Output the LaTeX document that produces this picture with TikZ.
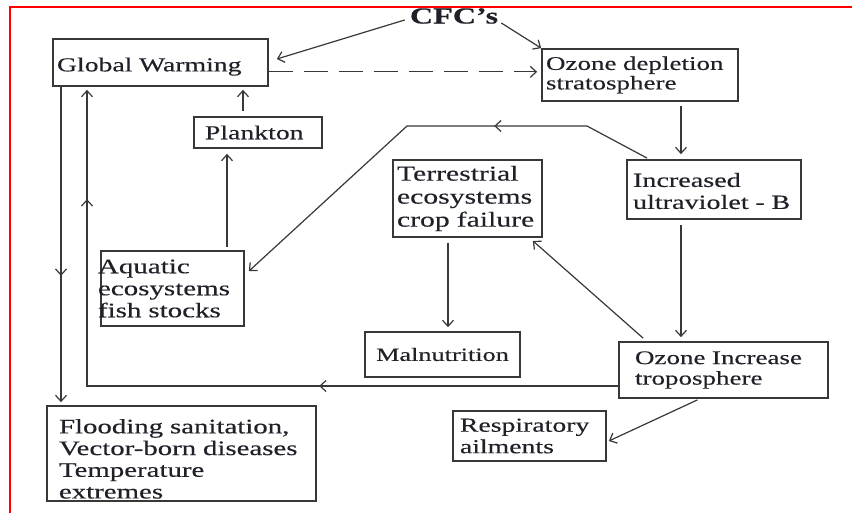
\documentclass[tikz,border=0pt]{standalone}
\usepackage{fontspec}
\setmainfont{Liberation Serif}[FakeStretch=1.4, FakeBold=0.3]
\usetikzlibrary{arrows.meta,calc,decorations.markings}
\newcommand\fsz[2]{\fontsize{#1}{#2}\selectfont}
\definecolor{ln}{HTML}{383838}
\definecolor{txt}{HTML}{202028}
\tikzset{
  box/.style={draw=ln, line width=1.7pt, text=txt, inner ysep=0pt, align=left, font=\fsz{19.8}{21.5}},
  conn/.style={draw=ln, line width=1.2pt, -{Straight Barb[length=6pt,width=11pt]}},
  marr/.style={postaction={decorate, decoration={markings, mark=at position #1 with {\arrow{Straight Barb[length=6pt,width=11pt]}}}}},
}
\begin{document}
\begin{tikzpicture}[x=1pt, y=-1pt]
\useasboundingbox (0,0) rectangle (852,513);
\fill[white] (0,0) rectangle (852,513);
\draw[red, line width=1.3pt] (10,513) -- (10,7) -- (852,7);

% boxes
\node[box, text width=207pt, inner xsep=4pt, minimum height=47pt] (gw) at (160.5,62.5) {\rule{0pt}{22pt}\mbox{Global Warming}};
\node[box, text width=188pt, inner xsep=4pt, minimum height=52pt, font=\fsz{19.3}{19.5}] (odep) at (640,75) {\mbox{Ozone depletion}\\stratosphere};
\node[box, text width=162pt, inner xsep=6pt, minimum height=59pt, font=\fsz{20.1}{22}] (uv) at (714,189.5) {\rule{0pt}{17pt}Increased\\\mbox{ultraviolet - B}};
\node[box, text width=141pt, inner xsep=4pt, minimum height=77pt, font=\fsz{21.2}{23}] (terr) at (467.5,198.5) {Terrestrial\\ecosystems\\\mbox{crop failure}};
\node[box, text width=155pt, inner xsep=0pt, minimum height=45pt, align=center, font=\fsz{18.75}{20}] (maln) at (442.5,354.5) {Malnutrition};
\node[box, text width=177pt, inner xsep=16pt, minimum height=56pt, font=\fsz{19.3}{20.5}] (ozi) at (723.5,370) {\mbox{Ozone Increase}\\troposphere};
\node[box, text width=139pt, inner xsep=7pt, minimum height=50pt] (resp) at (529.5,436) {Respiratory\\ailments};
\node[box, text width=245pt, inner xsep=12pt, minimum height=95pt, font=\fsz{20.6}{21.7}] (flood) at (181.5,453.5) {\rule{0pt}{25pt}\mbox{Flooding sanitation,}\\\mbox{Vector-born diseases}\\Temperature\\extremes};
\node[box, text width=106pt, inner xsep=11pt, minimum height=31pt] (plank) at (258,132.5) {Plankton};
\node[box, text width=141pt, inner xsep=1pt, minimum height=75pt, font=\fsz{20.7}{22}] (aq) at (172.5,288.5) {\hspace*{-4pt}Aquatic\\\hspace*{-4pt}ecosystems\\\hspace*{-4pt}\mbox{fish stocks}};
\node[font=\bfseries\fsz{23}{25}, text=txt, inner sep=1pt] (cfc) at (454,16) {CFC's};

% helper coordinates
\coordinate (c1) at (681,0);
\coordinate (c2) at (448,0);
\coordinate (c3) at (87,0);
\coordinate (c4) at (61,0);
\coordinate (c5) at (243,0);
\coordinate (c6) at (227,0);
\coordinate (r1) at (0,386);
\coordinate (b1) at (587,126);
\coordinate (b2) at (407,126);
\coordinate (d0) at ($(gw.south east)+(0,-15)$);

% connectors
\draw[conn] ($(cfc.west)+(-4,4)$) -- ($(gw.east)+(8,-3.5)$);
\draw[conn] ($(cfc.east)+(2,7)$) -- (odep.north west);
\draw[conn, dash pattern=on 24pt off 11pt] (d0) -- ($(d0 -| odep.west)+(-4,0)$);
\draw[conn, shorten <=4pt, shorten >=5pt] (odep.south -| c1) -- (uv.north -| c1);
\draw[conn, shorten <=5pt, shorten >=4pt] (uv.south -| c1) -- (ozi.north -| c1);
\draw[conn] ($(ozi.south)+(-26,1)$) -- ($(resp.east)+(2,5)$);
\draw[conn] ($(ozi.north west)+(25,-3)$) -- ($(terr.south east)+(-10,3)$);
\draw[conn, shorten <=5pt, shorten >=4pt] (terr.south -| c2) -- (maln.north -| c2);
\draw[conn, marr=299pt, marr=718pt] (ozi.west |- r1) -- (c3 |- r1) -- ($(gw.south -| c3)+(0,3)$);
\draw[conn, marr=189pt] (gw.south -| c4) -- ($(flood.north -| c4)+(0,-3)$);
\draw[conn, shorten <=5pt, shorten >=3pt] (plank.north -| c5) -- (gw.south -| c5);
\draw[conn, shorten <=3pt, shorten >=5pt] (aq.north -| c6) -- (plank.south -| c6);
\draw[conn, marr=161pt] ($(uv.north west)+(21,-1)$) -- (b1) -- (b2) -- ($(aq.north east)+(4,21)$);
\end{tikzpicture}
\end{document}
